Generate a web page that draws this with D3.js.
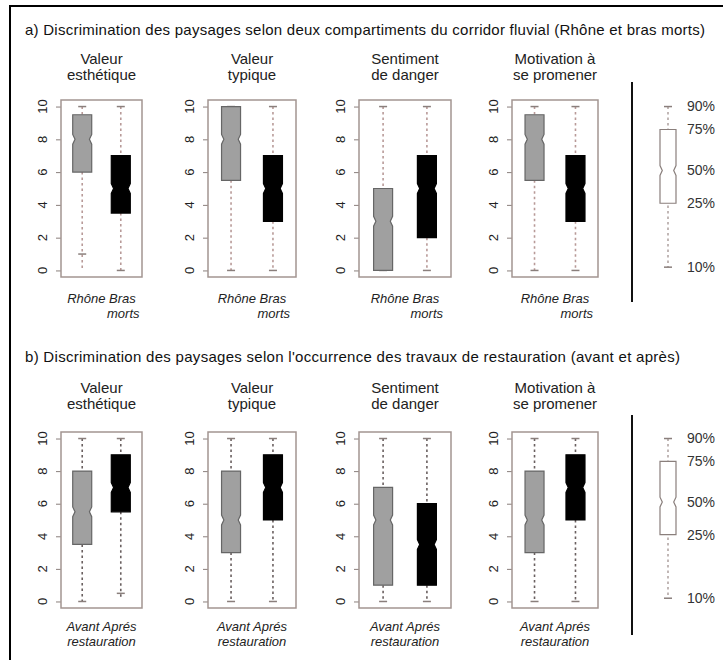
<!DOCTYPE html>
<html lang="fr">
<head>
<meta charset="UTF-8">
<style>
  body { margin: 0; background: #fff; }
  svg { display: block; font-family: "Liberation Sans", Arial, sans-serif; }
</style>
<script src="https://cdn.jsdelivr.net/npm/d3@7"></script>
</head>
<body>
<div id="chart"></div>
<script>
// --- données ---
const measures = [["Valeur", "esthétique"], ["Valeur", "typique"], ["Sentiment", "de danger"], ["Motivation à", "se promener"]];
const yTicks = [0, 2, 4, 6, 8, 10];

// [moustache basse, Q1, médiane, Q3, moustache haute]
const rhone = [[1, 6, 8, 9.5, 10], [0, 5.5, 8, 10, 10], [0, 0, 3, 5, 10], [0, 5.5, 8, 9.5, 10]];
const brasMorts = [[0, 3.5, 5, 7, 10], [0, 3, 5, 7, 10], [0, 2, 5, 7, 10], [0, 3, 5, 7, 10]];
const avant = [[0, 3.5, 5.5, 8, 10], [0, 3, 5, 8, 10], [0, 1, 5, 7, 10], [0, 3, 5, 8, 10]];
const apres = [[0.5, 5.5, 7, 9, 10], [0, 5, 7, 9, 10], [0, 1, 3.5, 6, 10], [0, 5, 7, 9, 10]];
// prolongement pointillé sous la moustache basse (null = aucun)
const rhoneTail = [0, null, null, null];
const apresTail = [0.1, null, null, null];

const legendLevels = [0.2, 4.1, 6.1, 8.6, 10];
const legendLabels = ["10%", "25%", "50%", "75%", "90%"];

const titles = [
  "a) Discrimination des paysages selon deux compartiments du corridor fluvial (Rhône et bras morts)",
  "b) Discrimination des paysages selon l'occurrence des travaux de restauration (avant et après)"
];

// --- mise en page ---
const W = 723, H = 660;
const frames = [[61, 142], [208, 296], [359, 451], [512, 598]];
const rows = [
  { top: 100, bottom: 277, title: 35, titleW: 680, sub: 64, lab: 303, dash: "#b89a98", groups: ["Rhône", "Bras morts"], series: [rhone, brasMorts], tails: [rhoneTail, null], divider: [82, 302] },
  { top: 432, bottom: 608, title: 362, titleW: 655, sub: 393, lab: 631, dash: "#6a6060", groups: ["Avant", "Après"], series: [avant, apres], tails: [null, apresTail], divider: [415, 635] }
];
const fills = ["#a0a0a0", "#000"];
const strokes = ["#666", "#000"];
const boxW = 19, notchIn = 2.3, notchH = 0.3;

const svg = d3.select("#chart").append("svg").attr("width", W).attr("height", H);

// cadre extérieur
svg.append("path").attr("d", `M10,${H + 5} L10,6 L${W + 5},6`)
  .attr("fill", "none").attr("stroke", "#000").attr("stroke-width", 2);

function boxPath(cx, y, s, bw) {
  const [lo, q1, med, q3, hi] = s;
  const l = cx - bw / 2, r = cx + bw / 2;
  const nt = Math.min(med + notchH, q3), nb = Math.max(med - notchH, q1);
  return `M${l},${y(q3)} L${r},${y(q3)} L${r},${y(nt)} L${r - notchIn},${y(med)} L${r},${y(nb)} L${r},${y(q1)}` +
    ` L${l},${y(q1)} L${l},${y(nb)} L${l + notchIn},${y(med)} L${l},${y(nt)} Z`;
}

rows.forEach((row, ri) => {
  const y = d3.scaleLinear().domain([-0.4, 10.4]).range([row.bottom, row.top]);

  svg.append("text").attr("x", 25).attr("y", row.title)
    .attr("font-size", 15).attr("fill", "#111")
    .attr("textLength", row.titleW).attr("lengthAdjust", "spacing").text(titles[ri]);

  frames.forEach((fr, i) => {
    const x = d3.scalePoint().domain(row.groups).range(fr).padding(0.55);
    const g = svg.append("g");
    const cxm = (fr[0] + fr[1]) / 2;

    // titre de la mesure
    measures[i].forEach((t, k) => {
      g.append("text").attr("x", cxm).attr("y", row.sub + k * 16)
        .attr("text-anchor", "middle").attr("font-size", 15).attr("fill", "#222").text(t);
    });

    // axe y
    const ax = g.append("g").attr("transform", `translate(${fr[0]},0)`)
      .call(d3.axisLeft(y).tickValues(yTicks).tickSize(5).tickPadding(0).tickFormat(""));
    ax.select(".domain").remove();
    ax.selectAll("line").attr("stroke", "#8a7f7c");
    yTicks.forEach(v => {
      g.append("text").attr("transform", `translate(${fr[0] - 14},${y(v)}) rotate(-90)`)
        .attr("text-anchor", "middle").attr("font-size", 13).attr("fill", "#222").text(v);
    });

    // boîtes
    row.groups.forEach((grp, k) => {
      const s = row.series[k][i];
      const cx = x(grp);
      const tail = row.tails[k] ? row.tails[k][i] : null;
      const lowEnd = tail == null ? s[0] : Math.min(tail, s[0]);
      g.append("line").attr("x1", cx).attr("x2", cx).attr("y1", y(s[4])).attr("y2", y(s[3]))
        .attr("stroke", row.dash).attr("stroke-width", 1.6).attr("stroke-dasharray", "2.5,3");
      g.append("line").attr("x1", cx).attr("x2", cx).attr("y1", y(s[1])).attr("y2", y(lowEnd))
        .attr("stroke", row.dash).attr("stroke-width", 1.6).attr("stroke-dasharray", "2.5,3");
      [s[0], s[4]].forEach(v => {
        g.append("line").attr("x1", cx - 4).attr("x2", cx + 4).attr("y1", y(v)).attr("y2", y(v))
          .attr("stroke", "#8a7f7c").attr("stroke-width", 1.5);
      });
      g.append("path").attr("d", boxPath(cx, y, s, boxW))
        .attr("fill", fills[k]).attr("stroke", strokes[k]).attr("stroke-width", 1.2);
    });

    // cadre du graphique
    g.append("rect").attr("x", fr[0]).attr("y", row.top)
      .attr("width", fr[1] - fr[0]).attr("height", row.bottom - row.top)
      .attr("fill", "none").attr("stroke", "#a39591").attr("stroke-width", 1.5);

    // étiquettes des groupes
    const lab = (tx, xx, yy, anchor) => g.append("text").attr("x", xx).attr("y", yy)
      .attr("text-anchor", anchor).attr("font-size", 13).attr("font-style", "italic")
      .attr("fill", "#222").text(tx);
    if (ri === 0) {
      lab("Rhône Bras", cxm, row.lab, "middle");
      lab("morts", cxm + 38, row.lab + 15, "end");
    } else {
      lab("Avant Aprés", cxm, row.lab, "middle");
      lab("restauration", cxm, row.lab + 15, "middle");
    }
  });

  // séparateur vertical
  svg.append("line").attr("x1", 632).attr("x2", 632)
    .attr("y1", row.divider[0]).attr("y2", row.divider[1])
    .attr("stroke", "#111").attr("stroke-width", 2);

  // légende
  const lx = 668;
  const [p10, p25, p50, p75, p90] = legendLevels;
  const lg = svg.append("g");
  lg.append("line").attr("x1", lx).attr("x2", lx).attr("y1", y(p90)).attr("y2", y(p10))
    .attr("stroke", "#a89a98").attr("stroke-width", 1.4).attr("stroke-dasharray", "2.5,3");
  [p10, p90].forEach(v => {
    lg.append("line").attr("x1", lx - 4).attr("x2", lx + 4).attr("y1", y(v)).attr("y2", y(v))
      .attr("stroke", "#8a7f7c").attr("stroke-width", 1.5);
  });
  lg.append("path").attr("d", boxPath(lx, y, legendLevels, 16))
    .attr("fill", "#fff").attr("stroke", "#8a7f7c").attr("stroke-width", 1.2);
  legendLevels.forEach((v, k) => {
    lg.append("text").attr("x", 687).attr("y", y(v)).attr("dy", "0.35em")
      .attr("font-size", 14).attr("fill", "#333").text(legendLabels[k]);
  });
});
</script>
</body>
</html>
